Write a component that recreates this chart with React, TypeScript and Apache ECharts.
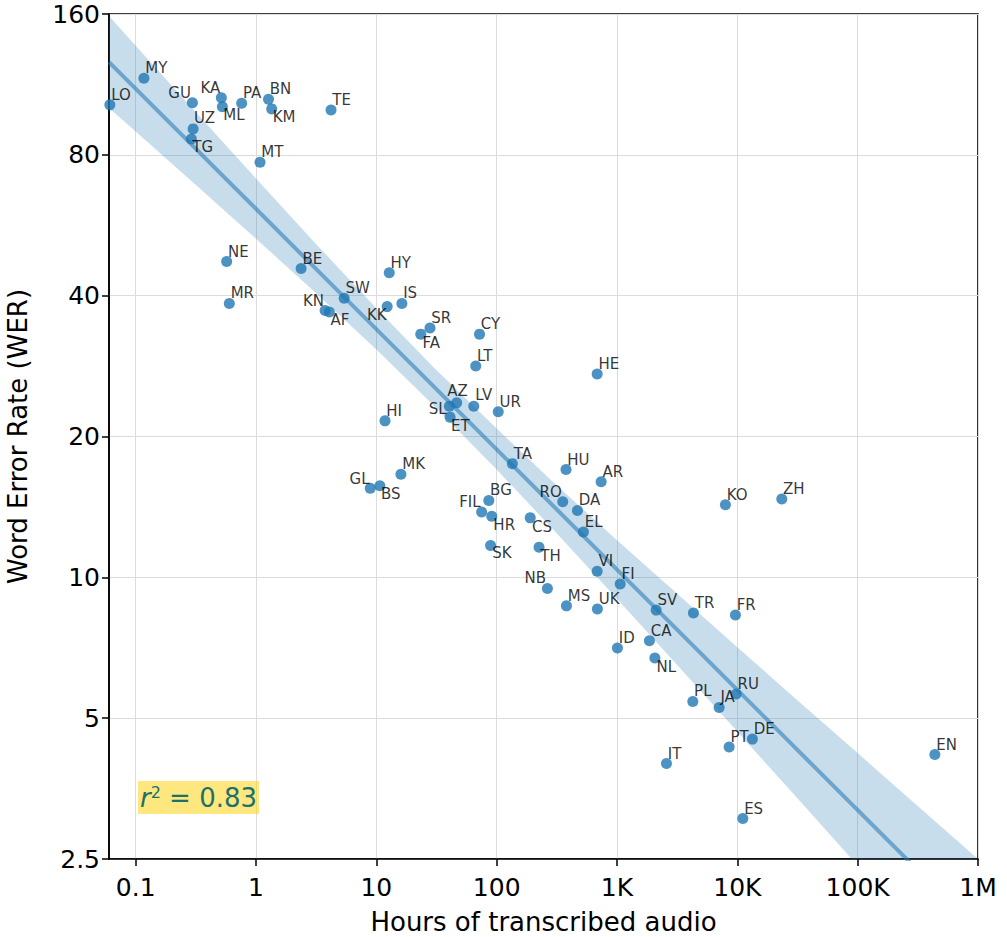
import React, { useEffect, useRef } from "react";
import * as echarts from "echarts";

// ---- data ----
const languages = ["LO","MY","GU","KA","ML","PA","BN","KM","TE","UZ","TG","MT","NE","MR","BE","SW","KN","AF","HY","KK","IS","SR","FA","CY","LT","AZ","SL","LV","UR","HI","ET","HE","TA","HU","AR","MK","GL","BS","BG","FIL","HR","RO","DA","CS","EL","SK","TH","VI","FI","NB","MS","UK","SV","TR","FR","CA","ID","NL","PL","JA","RU","KO","ZH","PT","DE","IT","ES","EN"];
const hours = [0.061,0.117,0.296,0.515,0.525,0.76,1.27,1.35,4.2,0.30,0.29,1.08,0.57,0.60,2.37,5.4,3.75,4.07,12.8,12.3,16.3,27.9,23.4,72,67,46.5,40.4,64.5,103,11.8,41,684,135,377,738,16,8.9,10.7,86,75,91,354,469,190,526,89,225,684,1063,264,380,687,2114,4315,9640,1859,1008,2063,4265,7060,9780,7960,23400,8550,13340,2576,11110,438000];
const wer = [102.3,116.6,103.4,106.0,101.4,103.1,105.2,100.3,99.8,90.9,86.5,77.1,47.3,38.5,45.7,39.5,37.2,36.9,44.8,37.9,38.5,34.1,33.1,33.1,28.3,23.6,23.2,23.2,22.6,21.6,22.0,27.2,17.5,17.0,16.0,16.6,15.5,15.7,14.6,13.8,13.5,14.5,13.9,13.4,12.5,11.7,11.6,10.3,9.68,9.47,8.69,8.56,8.51,8.39,8.31,7.32,7.06,6.72,5.43,5.27,5.63,14.3,14.7,4.34,4.51,4.00,3.05,4.18];

const fitHours = [0.06, 1000000];
const fitWer = [126.3, 1.76];

const bandHours = [0.06,0.1,0.3,1,3,10,30,100,300,1000,3000,10000,30000,100000,300000,1000000];
const bandUpper = [158.4,136.9,100.1,71.2,52.3,37.6,28.1,20.8,15.9,12.0,9.34,7.09,5.52,4.21,3.28,2.50];
const bandLower = [100.7,89.7,69.8,52.9,41.0,30.7,23.3,17.0,12.6,9.0,6.59,4.68,3.42,2.42,1.76,1.25];

const xTickValues = [0.1,1,10,100,1000,10000,100000,1000000];
const xTickLabels = ["0.1","1","10","100","1K","10K","100K","1M"];
const yTickLabels = ["2.5","5","10","20","40","80","160"];
const rSquaredText = "0.83";

// label placement (layout only): [align, dx, dy]
const labelPlacement: Record<string, [string, number, number]> = {
  GU: ["right", -1.5, -10], KA: ["right", -1, -9.5], ML: ["left", 1, 8.5], KM: ["left", 1, 8],
  TG: ["left", 1, 8.3], KN: ["right", -1, -9.6], AF: ["left", 1, 8.4], KK: ["right", -0.6, 8.3],
  FA: ["left", 1.6, 9], AZ: ["left", -9.4, -12.3], SL: ["right", -2.6, 2.6], LV: ["left", 1.6, -11],
  ET: ["left", 1, 8.4], GL: ["right", -0.7, -9.3], BS: ["left", 1, 8.6], FIL: ["right", -1, -9.4],
  HR: ["left", 1.6, 8.3], RO: ["right", -1, -9.7], CS: ["left", 1.7, 8.7], SK: ["left", 1.6, 7.7],
  TH: ["left", 1.3, 8.4], NB: ["right", -1.3, -10], NL: ["left", 1.6, 8.7], UZ: ["left", 1, -10.7],
};
const defaultPlacement: [string, number, number] = ["left", 1.3, -10];

const Y_BASE = 2.5;
const Y_SHIFT = 2;
const toY = (w: number) => Math.log2(w / Y_BASE) + Y_SHIFT;

const FONT = "DejaVu Sans";
const BLUE = "#1f77b4";

export default function App() {
  const ref = useRef<HTMLDivElement>(null);
  useEffect(() => {
    document.body.style.margin = "0";
    const chart = echarts.init(ref.current!, null, { renderer: "svg" });

    const scatterData = languages.map((c, i) => {
      const p = labelPlacement[c] || defaultPlacement;
      return {
        name: c,
        value: [hours[i], toY(wer[i])],
        label: { align: p[0], offset: [p[1], p[2]] },
      };
    });

    const bandPoints = bandHours.map((h, i) => [h, toY(bandLower[i]), toY(bandUpper[i])]);

    chart.setOption({
      animation: false,
      textStyle: { fontFamily: FONT },
      grid: {
        left: 109, top: 14, width: 869, height: 845,
        outerBoundsMode: "none",
        containLabel: false,
        show: true, borderColor: "#000", borderWidth: 1.6, backgroundColor: "transparent",
      },
      xAxis: {
        type: "log",
        logBase: 10,
        min: 0.06,
        max: 1000000,
        name: "Hours of transcribed audio",
        nameLocation: "middle",
        nameGap: 50,
        nameTextStyle: { fontSize: 26, color: "#000", fontFamily: FONT },
        axisLine: { show: true, lineStyle: { color: "#000", width: 1.6 } },
        axisTick: { show: true, length: 7, lineStyle: { color: "#000", width: 1.5 }, customValues: xTickValues },
        axisLabel: {
          customValues: xTickValues,
          fontSize: 25, color: "#000", margin: 16, fontFamily: FONT,
          formatter: (v: number) => {
            const l = Math.log10(v);
            const r = Math.round(l);
            if (Math.abs(l - r) > 0.01) return "";
            return xTickLabels[r + 1] ?? "";
          },
        },
        splitLine: { show: true, lineStyle: { color: "#dcdcdc", width: 1 } },
      },
      yAxis: {
        type: "value",
        min: 2,
        max: 8,
        interval: 1,
        name: "Word Error Rate (WER)",
        nameLocation: "middle",
        nameGap: 78,
        nameTextStyle: { fontSize: 26, color: "#000", fontFamily: FONT },
        axisLine: { show: true, lineStyle: { color: "#000", width: 1.6 } },
        axisTick: { show: true, length: 7, lineStyle: { color: "#000", width: 1.5 } },
        axisLabel: {
          fontSize: 25, color: "#000", margin: 9, fontFamily: FONT,
          formatter: (v: number) => yTickLabels[Math.round(v - Y_SHIFT)] ?? "",
        },
        splitLine: { show: true, lineStyle: { color: "#dcdcdc", width: 1 } },
      },
      series: [
        {
          type: "custom",
          z: 1,
          silent: true,
          clip: true,
          data: [0],
          renderItem: (params: any, api: any) => {
            const upper = bandPoints.map((p) => api.coord([p[0], p[2]]));
            const lower = bandPoints.map((p) => api.coord([p[0], p[1]])).reverse();
            const cs = params.coordSys;
            return {
              type: "polygon",
              shape: { points: upper.concat(lower) },
              style: { fill: "rgba(31,119,180,0.25)", stroke: "none" },
              clipPath: { type: "rect", shape: { x: cs.x, y: cs.y, width: cs.width, height: cs.height } },
            };
          },
        },
        {
          type: "line",
          z: 2,
          silent: true,
          symbol: "none",
          data: fitHours.map((h, i) => [h, toY(fitWer[i])]),
          lineStyle: { color: BLUE, width: 4, opacity: 0.55 },
        },
        {
          type: "scatter",
          z: 3,
          symbolSize: 11,
          itemStyle: { color: BLUE, opacity: 0.8 },
          label: {
            show: true,
            position: "inside",
            formatter: "{b}",
            color: "#000",
            textBorderWidth: 0,
            textBorderColor: "transparent",
            fontSize: 15,
            fontFamily: FONT,
            verticalAlign: "middle",
          },
          data: scatterData,
        },
      ],
      graphic: [
        {
          type: "text",
          left: 138,
          top: 781,
          z: 10,
          style: {
            text: "{r|r}{sup|2}{n| = " + rSquaredText + "}",
            backgroundColor: "rgba(253,215,40,0.6)",
            padding: [3, 2, 2, 2],
            rich: {
              r: { fontSize: 26, fontStyle: "italic", fill: "#1e7168", fontFamily: FONT },
              sup: { fontSize: 16, fill: "#1e7168", fontFamily: FONT, padding: [0, 0, 12, 0] },
              n: { fontSize: 26, fill: "#1e7168", fontFamily: FONT },
            },
          },
        },
      ],
    });
    return () => chart.dispose();
  }, []);
  return <div ref={ref} style={{ width: 1007, height: 937 }} />;
}
